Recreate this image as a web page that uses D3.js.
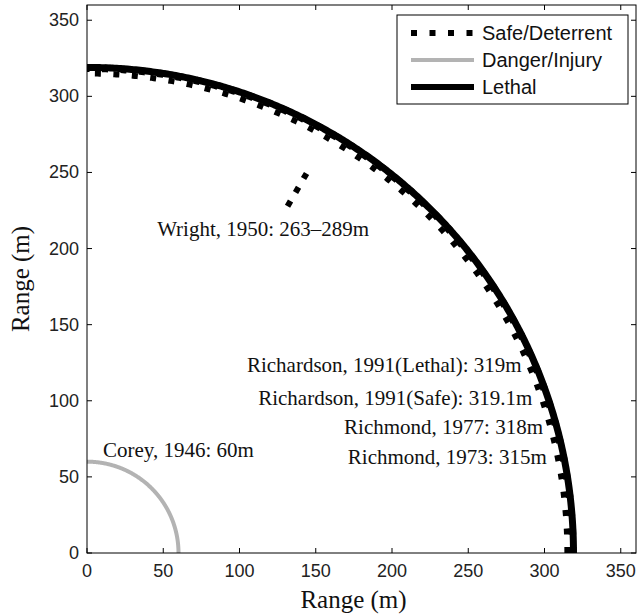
<!DOCTYPE html>
<html>
<head>
<meta charset="utf-8">
<script src="https://cdn.jsdelivr.net/npm/d3@7/dist/d3.min.js"></script>
<style>
  html, body { margin: 0; padding: 0; background: #fff; }
  svg { display: block; }
</style>
</head>
<body>
<svg id="chart" width="641" height="616"></svg>
<script>
// ---- data ----
const legendLabels = ["Safe/Deterrent", "Danger/Injury", "Lethal"];
const safeLabels = ["Richardson, 1991(Safe): 319.1m", "Richmond, 1977: 318m", "Richmond, 1973: 315m"];
const safeRanges = [319.1, 318, 315];
const lethalLabels = ["Richardson, 1991(Lethal): 319m"];
const lethalRanges = [319];
const dangerLabels = ["Corey, 1946: 60m"];
const dangerRanges = [60];
const wrightLabel = "Wright, 1950: 263\u2013289m";
const wrightRange = [263, 289];
const wrightBearing = 60; // degrees
const xTicks = [0, 50, 100, 150, 200, 250, 300, 350];
const yTicks = [0, 50, 100, 150, 200, 250, 300, 350];
const axisLabel = "Range (m)";

// ---- layout ----
const L = 87, R = 636, T = 5, B = 553;
const svg = d3.select("#chart");
const x = d3.scaleLinear().domain([0, 360]).range([L, R]);
const y = d3.scaleLinear().domain([0, 360]).range([B, T]);

svg.append("defs").append("clipPath").attr("id", "clip")
  .append("rect").attr("x", L).attr("y", T).attr("width", R - L).attr("height", B - T);

const plot = svg.append("g").attr("clip-path", "url(#clip)");

const angles = d3.range(0, 90.01, 0.25).map(d => d * Math.PI / 180);
function arcPath(r) {
  return d3.line()
    .x(a => x(r * Math.cos(a)))
    .y(a => y(r * Math.sin(a)))(angles);
}

const dotted = { width: 6, dash: "6,12.5" };

// safe / deterrent arcs (dotted)
plot.selectAll("path.safe").data(safeRanges).join("path")
  .attr("class", "safe")
  .attr("d", d => arcPath(d))
  .attr("fill", "none").attr("stroke", "#000")
  .attr("stroke-width", dotted.width)
  .attr("stroke-dasharray", dotted.dash);

// Wright radial segment (dotted)
const wa = wrightBearing * Math.PI / 180;
plot.append("path")
  .attr("d", d3.line().x(r => x(r * Math.cos(wa))).y(r => y(r * Math.sin(wa)))(wrightRange))
  .attr("fill", "none").attr("stroke", "#000")
  .attr("stroke-width", dotted.width)
  .attr("stroke-dasharray", "6,10");

// danger arcs (grey)
plot.selectAll("path.danger").data(dangerRanges).join("path")
  .attr("class", "danger")
  .attr("d", d => arcPath(d))
  .attr("fill", "none").attr("stroke", "#b3b3b3")
  .attr("stroke-width", 4);

// lethal arcs (solid)
plot.selectAll("path.lethal").data(lethalRanges).join("path")
  .attr("class", "lethal")
  .attr("d", d => arcPath(d))
  .attr("fill", "none").attr("stroke", "#000")
  .attr("stroke-width", 7);

// ---- axes box ----
const tickLen = 5;
const axG = svg.append("g").attr("stroke", "#000").attr("stroke-width", 1);
axG.append("rect").attr("x", L).attr("y", T).attr("width", R - L).attr("height", B - T)
  .attr("fill", "none");
xTicks.forEach(t => {
  axG.append("line").attr("x1", x(t)).attr("x2", x(t)).attr("y1", B).attr("y2", B - tickLen);
  axG.append("line").attr("x1", x(t)).attr("x2", x(t)).attr("y1", T).attr("y2", T + tickLen);
});
yTicks.forEach(t => {
  axG.append("line").attr("x1", L).attr("x2", L + tickLen).attr("y1", y(t)).attr("y2", y(t));
  axG.append("line").attr("x1", R).attr("x2", R - tickLen).attr("y1", y(t)).attr("y2", y(t));
});

const sans = "'Liberation Sans', Arial, Helvetica, sans-serif";
const serif = "'Liberation Serif', 'Times New Roman', Times, serif";

svg.append("g").selectAll("text").data(xTicks).join("text")
  .attr("x", d => x(d)).attr("y", B + 24)
  .attr("text-anchor", "middle")
  .attr("font-family", sans).attr("font-size", 18).attr("fill", "#222")
  .text(d => d);

svg.append("g").selectAll("text").data(yTicks).join("text")
  .attr("x", L - 8).attr("y", d => y(d) + 6)
  .attr("text-anchor", "end")
  .attr("font-family", sans).attr("font-size", 18).attr("fill", "#222")
  .text(d => d);

svg.append("text")
  .attr("x", (L + R) / 2 - 8).attr("y", 608)
  .attr("text-anchor", "middle")
  .attr("font-family", serif).attr("font-size", 25).attr("fill", "#111")
  .text(axisLabel);

svg.append("text")
  .attr("transform", `translate(29,${(T + B) / 2}) rotate(-90)`)
  .attr("text-anchor", "middle")
  .attr("font-family", serif).attr("font-size", 25).attr("fill", "#111")
  .text(axisLabel);

// ---- annotations ----
const ann = svg.append("g").attr("font-family", serif).attr("font-size", 21).attr("fill", "#111");
const rightLabels = [lethalLabels[0], safeLabels[0], safeLabels[1], safeLabels[2]];
const rightPos = [[285, 119], [292, 97.5], [299, 78], [301.5, 58.5]];
rightLabels.forEach((t, i) => {
  ann.append("text").attr("x", x(rightPos[i][0])).attr("y", y(rightPos[i][1]))
    .attr("text-anchor", "end").text(t);
});
ann.append("text").attr("x", x(46)).attr("y", y(208)).attr("text-anchor", "start").text(wrightLabel);
ann.append("text").attr("x", x(10.5)).attr("y", y(63)).attr("text-anchor", "start").text(dangerLabels[0]);

// ---- legend ----
const lg = svg.append("g");
lg.append("rect").attr("x", 397).attr("y", 15).attr("width", 231).attr("height", 89)
  .attr("fill", "#fff").attr("stroke", "#000").attr("stroke-width", 1);
const legendStyles = [
  { stroke: "#000", width: 6, dash: "6,12.5" },
  { stroke: "#b3b3b3", width: 4, dash: null },
  { stroke: "#000", width: 6, dash: null }
];
legendLabels.forEach((lab, i) => {
  const yy = 33 + i * 27;
  const s = legendStyles[i];
  const ln = lg.append("line").attr("x1", 411).attr("x2", 474).attr("y1", yy).attr("y2", yy)
    .attr("stroke", s.stroke).attr("stroke-width", s.width);
  if (s.dash) ln.attr("stroke-dasharray", s.dash);
  lg.append("text").attr("x", 482).attr("y", yy + 7)
    .attr("font-family", sans).attr("font-size", 20).attr("fill", "#111")
    .text(lab);
});
</script>
</body>
</html>
